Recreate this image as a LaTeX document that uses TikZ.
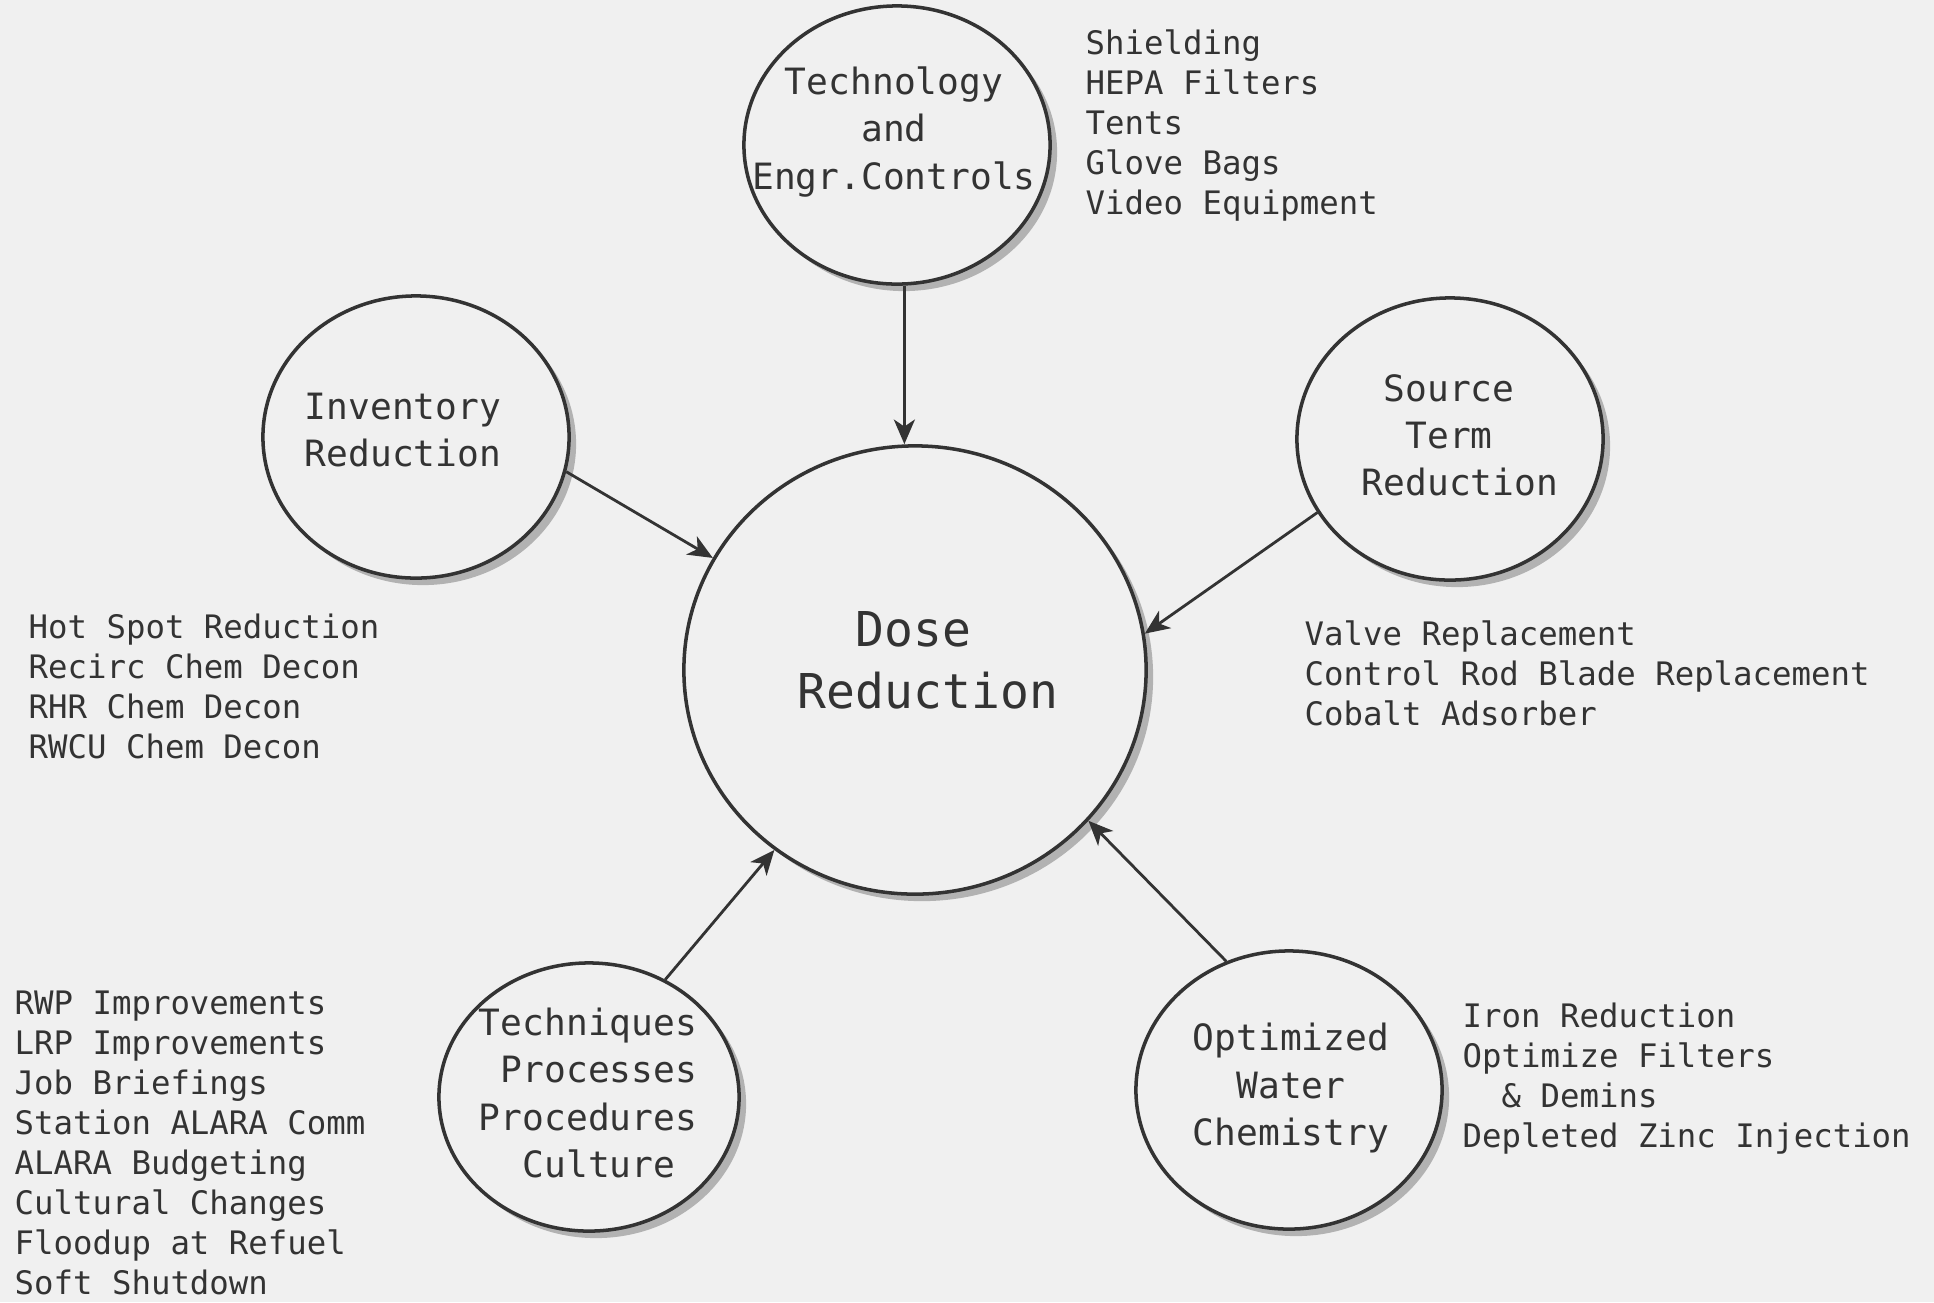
\documentclass[tikz,border=0pt]{standalone}
\usepackage{fontspec}
\setmonofont{DejaVu Sans Mono}
\usetikzlibrary{shapes.geometric,arrows.meta,shadows,positioning}
\colorlet{paper}{black!6}
\colorlet{ink}{black!80}
\newcommand{\monogap}{\phantom{0}}

\begin{document}
\begin{tikzpicture}[x=0.01cm,y=-0.01cm,
  bubble/.style={ellipse,draw=ink,line width=1pt,fill=paper,inner sep=0pt,
    minimum width=3.06cm,minimum height=2.78cm,
    drop shadow={shadow xshift=0.07cm,shadow yshift=-0.07cm,fill=black!30,opacity=1}},
  bubtext/.style={text=ink,align=left,inner sep=0pt,font=\ttfamily\fontsize{10.3}{13.4}\selectfont},
  itemlist/.style={text=ink,align=left,anchor=north west,inner sep=0pt,font=\ttfamily\fontsize{9.2}{11.4}\selectfont},
  feeds/.style={draw=ink,line width=0.8pt,-{Stealth[length=7pt,width=6pt,inset=2pt]}}]
  \useasboundingbox (0,0) rectangle (1934,1302);
  \fill[paper] (0,0) rectangle (1934,1302);

  \node[bubble,minimum width=4.62cm,minimum height=4.48cm] (dose) at (915,670) {};
  \node[bubble,minimum height=2.78cm] (tech) at (897,145) {};
  \node[bubble,minimum height=2.82cm] (inv) at (416,437) {};
  \node[bubble,minimum height=2.82cm] (src) at (1450,439) {};
  \node[bubble,minimum width=3.0cm,minimum height=2.68cm] (tq) at (589,1097) {};
  \node[bubble] (water) at (1289,1090) {};

  \node[bubtext,align=center] (techtxt) at (894,132) {Technology\\and\\Engr.Controls};
  \node[bubtext] (invtxt) at (403,430) {Inventory\\Reduction};
  \node[bubtext] (srctxt) at (1460,435) {\monogap Source\\\monogap\monogap Term\\Reduction};
  \node[bubtext,font=\ttfamily\fontsize{13.65}{17.5}\selectfont] (dosetxt) at (928,660) {\monogap\monogap Dose\\Reduction};
  \node[bubtext] (tqtxt) at (588,1093) {Techniques\\\monogap Processes\\Procedures\\\monogap\monogap Culture};
  \node[bubtext,align=center] (watertxt) at (1291,1088) {Optimized\\Water\\Chemistry};

  \node[itemlist] (techlist) at (1085,29) {Shielding\\HEPA Filters\\Tents\\Glove Bags\\Video Equipment};
  \node[itemlist] (invlist) at (28,613) {Hot Spot Reduction\\Recirc Chem Decon\\RHR Chem Decon\\RWCU Chem Decon};
  \node[itemlist] (srclist) at (1304,620) {Valve Replacement\\Control Rod Blade Replacement\\Cobalt Adsorber};
  \node[itemlist] (tqlist) at (14,990) {RWP Improvements\\LRP Improvements\\Job Briefings\\Station ALARA Comm\\ALARA Budgeting\\Cultural Changes\\Floodup at Refuel\\Soft Shutdown};
  \node[itemlist] (waterlist) at (1462,1002) {Iron Reduction\\Optimize Filters\\\monogap\monogap\& Demins\\Depleted Zinc Injection};

  \draw[feeds] (tech.-87) -- (tech.-87 |- dose.north);
  \draw[feeds] (inv.-13) -- (dose.151);
  \draw[feeds] (src.209) -- (dose.9);
  \draw[feeds] (tq.57) -- (dose.232);
  \draw[feeds] (water.116) -- (dose.319);
\end{tikzpicture}
\end{document}
